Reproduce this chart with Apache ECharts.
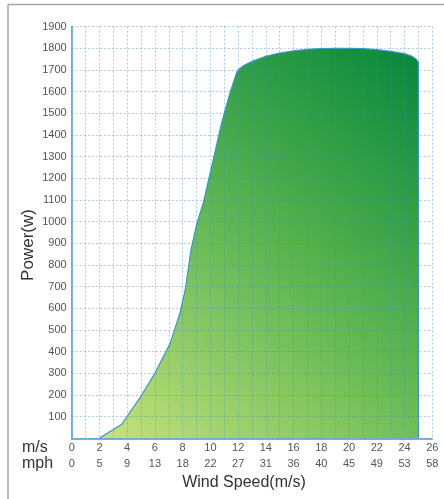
<!DOCTYPE html>
<html>
<head>
<meta charset="utf-8">
<script src="https://cdn.jsdelivr.net/npm/echarts@6/dist/echarts.min.js"></script>
<style>
html,body{margin:0;padding:0;background:#fff;}
#chart{width:444px;height:499px;}
</style>
</head>
<body>
<div id="chart"></div>
<script>
// Wind speed (m/s) and power (W)
const windSpeed = [2, 3.6, 5, 6, 7.1, 7.8, 8.2, 8.6, 9, 9.5, 10.2, 10.8, 11.4, 11.9, 12.1, 12.4, 12.8, 13.2, 14, 15, 16, 17, 18, 19, 20, 21, 22, 23, 24, 24.5, 24.8, 25, 25];
const powerW    = [0, 65, 195, 300, 438, 577, 690, 870, 985, 1090, 1284, 1453, 1592, 1690, 1706, 1720, 1733, 1744, 1763, 1778, 1788, 1795, 1799, 1800, 1800, 1798, 1794, 1786, 1775, 1764, 1752, 1735, 0];
// Tick labels
const msTicks  = [0, 2, 4, 6, 8, 10, 12, 14, 16, 18, 20, 22, 24, 26];
const mphTicks = [0, 5, 9, 13, 18, 22, 27, 31, 36, 40, 45, 49, 53, 58];

const seriesData = windSpeed.map((v, i) => [v, powerW[i]]);
const FONT = '"Liberation Sans", Arial, sans-serif';
const gridLine = { show: true, lineStyle: { color: 'rgba(60,140,200,0.45)', type: [2, 2], width: 1 } };

const chart = echarts.init(document.getElementById('chart'), null, { renderer: 'canvas' });
chart.setOption({
  animation: false,
  backgroundColor: '#fff',
  grid: { left: 71.7, top: 26.6, right: 11.7, bottom: 60.7, containLabel: false },
  xAxis: [
    {
      type: 'value', min: 0, max: 26, interval: 1, position: 'bottom', z: 3,
      axisLine: { show: true, lineStyle: { color: '#4a9ad0', width: 1.5 } },
      axisTick: { show: false },
      splitLine: gridLine,
      axisLabel: {
        color: '#555', fontFamily: FONT, fontSize: 11, margin: 4,
        formatter: v => (msTicks.indexOf(v) >= 0 ? String(v) : '')
      }
    },
    {
      type: 'value', min: 0, max: 26, interval: 2, position: 'bottom', offset: 16,
      axisLine: { show: false }, axisTick: { show: false }, splitLine: { show: false },
      axisLabel: {
        color: '#555', fontFamily: FONT, fontSize: 11, margin: 4,
        formatter: v => { const i = msTicks.indexOf(v); return i >= 0 ? String(mphTicks[i]) : ''; }
      }
    }
  ],
  yAxis: {
    type: 'value', min: 0, max: 1900, interval: 100, z: 3,
    axisLine: { show: true, lineStyle: { color: '#4a9ad0', width: 1.5 } },
    axisTick: { show: false },
    splitLine: gridLine,
    axisLabel: {
      color: '#555', fontFamily: FONT, fontSize: 11, margin: 5,
      formatter: v => (v === 0 ? '' : String(v))
    }
  },
  series: [{
    type: 'line',
    data: seriesData,
    showSymbol: false,
    symbol: 'none',
    z: 2,
    lineStyle: { color: '#3b95cf', width: 1.2 },
    areaStyle: {
      opacity: 1,
      color: new echarts.graphic.LinearGradient(0, 1, 1, 0, [
        { offset: 0, color: '#c6e27c' },
        { offset: 0.5, color: '#5db651' },
        { offset: 1, color: '#05873a' }
      ])
    }
  }],
  graphic: [
    { type: 'line', shape: { x1: 8, y1: 4.5, x2: 444, y2: 4.5 }, style: { stroke: '#a8a8a8', lineWidth: 1.5 } },
    { type: 'line', shape: { x1: 8, y1: 4.5, x2: 8, y2: 499 }, style: { stroke: '#a8a8a8', lineWidth: 1.5 } },
    { type: 'text', x: 22, y: 448, style: { text: 'm/s', fill: '#333', font: '16px ' + FONT, textVerticalAlign: 'middle' } },
    { type: 'text', x: 22, y: 464, style: { text: 'mph', fill: '#333', font: '16px ' + FONT, textVerticalAlign: 'middle' } },
    { type: 'text', x: 244, y: 483, style: { text: 'Wind Speed(m/s)', fill: '#333', font: '16px ' + FONT, textAlign: 'center', textVerticalAlign: 'middle' } },
    { type: 'text', x: 28, y: 245, rotation: Math.PI / 2, style: { text: 'Power(w)', fill: '#333', font: '17px ' + FONT, textAlign: 'center', textVerticalAlign: 'middle' } }
  ]
});
</script>
</body>
</html>
